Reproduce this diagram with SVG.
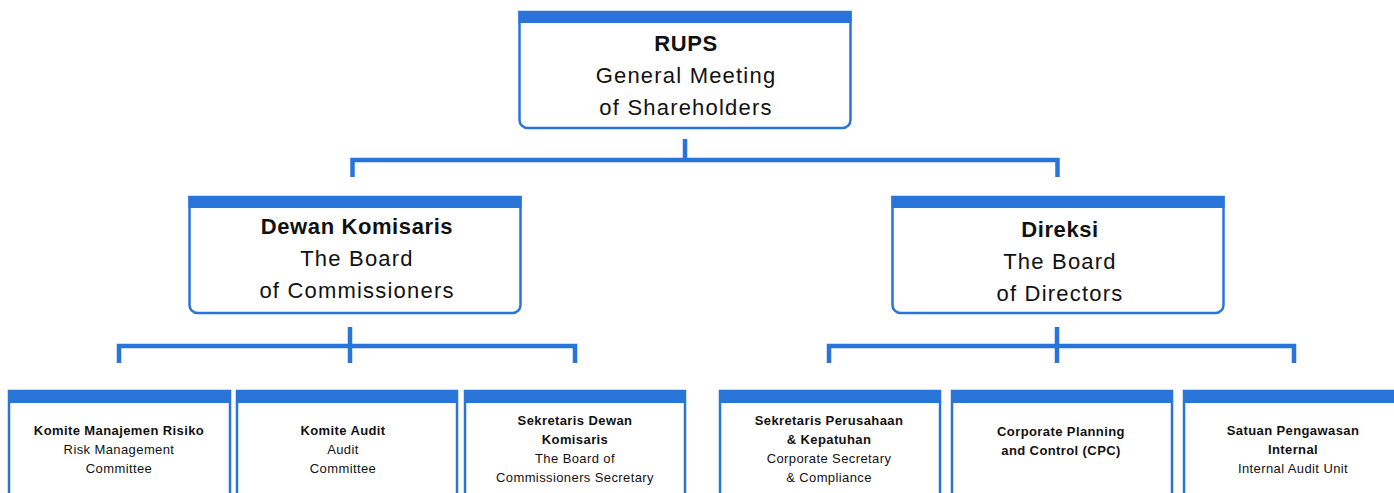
<svg xmlns="http://www.w3.org/2000/svg" width="1394" height="493" viewBox="0 0 1394 493">
<style>
.box{fill:#fff;stroke:#2874D9;stroke-width:2.5}
.bar{fill:#2874D9}
.conn{fill:none;stroke:#2874D9;stroke-width:4.5;stroke-linecap:butt}
text{font-family:"Liberation Sans",Arial,sans-serif;fill:#111;text-anchor:middle}
.t1{font-size:22px;font-weight:bold;letter-spacing:0.6px}
.t2{font-size:22px;letter-spacing:1.2px}
.s1{font-size:13px;font-weight:bold;letter-spacing:0.4px}
.s2{font-size:13px;letter-spacing:0.4px}
</style>
<rect width="1394" height="493" fill="#fff"/>
<g id="connectors">
<path class="conn" d="M685,139 V160 M352.5,177 V160 H1057.5 V177"/>
<path class="conn" d="M350,327 V363 M119,363 V346 H575 V363"/>
<path class="conn" d="M1057,327 V363 M829,363 V346 H1294 V363"/>
</g>
<g id="rups">
<path class="box" d="M519.5,12 H850.5 V120 A8,8 0 0 1 842.5,128 H527.5 A8,8 0 0 1 519.5,120 Z"/>
<rect class="bar" x="518.5" y="11" width="333" height="12"/>
<text class="t1" x="686" y="51">RUPS</text>
<text class="t2" x="686" y="83">General Meeting</text>
<text class="t2" x="686" y="115">of Shareholders</text>
</g>
<g id="dewan-komisaris">
<path class="box" d="M189.5,197 H520.5 V305 A8,8 0 0 1 512.5,313 H197.5 A8,8 0 0 1 189.5,305 Z"/>
<rect class="bar" x="188.5" y="196" width="333" height="12"/>
<text class="t1" x="357" y="234">Dewan Komisaris</text>
<text class="t2" x="357" y="266">The Board</text>
<text class="t2" x="357" y="298">of Commissioners</text>
</g>
<g id="direksi">
<path class="box" d="M892.5,197 H1223.5 V305 A8,8 0 0 1 1215.5,313 H900.5 A8,8 0 0 1 892.5,305 Z"/>
<rect class="bar" x="891.5" y="196" width="333" height="12"/>
<text class="t1" x="1060" y="237">Direksi</text>
<text class="t2" x="1060" y="269">The Board</text>
<text class="t2" x="1060" y="301">of Directors</text>
</g>
<g id="komite-manajemen-risiko">
<rect class="box" x="9" y="391" width="221" height="110"/>
<rect class="bar" x="8" y="390" width="223" height="13"/>
<text class="s1" x="119" y="435">Komite Manajemen Risiko</text>
<text class="s2" x="119" y="454">Risk Management</text>
<text class="s2" x="119" y="473">Committee</text>
</g>
<g id="komite-audit">
<rect class="box" x="237" y="391" width="220" height="110"/>
<rect class="bar" x="236" y="390" width="222" height="13"/>
<text class="s1" x="343" y="435">Komite Audit</text>
<text class="s2" x="343" y="454">Audit</text>
<text class="s2" x="343" y="473">Committee</text>
</g>
<g id="sekretaris-dewan-komisaris">
<rect class="box" x="465" y="391" width="220" height="110"/>
<rect class="bar" x="464" y="390" width="222" height="13"/>
<text class="s1" x="575" y="425">Sekretaris Dewan</text>
<text class="s1" x="575" y="444">Komisaris</text>
<text class="s2" x="575" y="463">The Board of</text>
<text class="s2" x="575" y="482">Commissioners Secretary</text>
</g>
<g id="sekretaris-perusahaan">
<rect class="box" x="720" y="391" width="220" height="110"/>
<rect class="bar" x="719" y="390" width="222" height="13"/>
<text class="s1" x="829" y="425">Sekretaris Perusahaan</text>
<text class="s1" x="829" y="444">&amp; Kepatuhan</text>
<text class="s2" x="829" y="463">Corporate Secretary</text>
<text class="s2" x="829" y="482">&amp; Compliance</text>
</g>
<g id="cpc">
<rect class="box" x="952" y="391" width="220" height="110"/>
<rect class="bar" x="951" y="390" width="222" height="13"/>
<text class="s1" x="1061" y="436">Corporate Planning</text>
<text class="s1" x="1061" y="455">and Control (CPC)</text>
</g>
<g id="satuan-pengawasan-internal">
<rect class="box" x="1184" y="391" width="220" height="110"/>
<rect class="bar" x="1183" y="390" width="222" height="13"/>
<text class="s1" x="1293" y="435">Satuan Pengawasan</text>
<text class="s1" x="1293" y="454">Internal</text>
<text class="s2" x="1293" y="473">Internal Audit Unit</text>
</g>
</svg>
